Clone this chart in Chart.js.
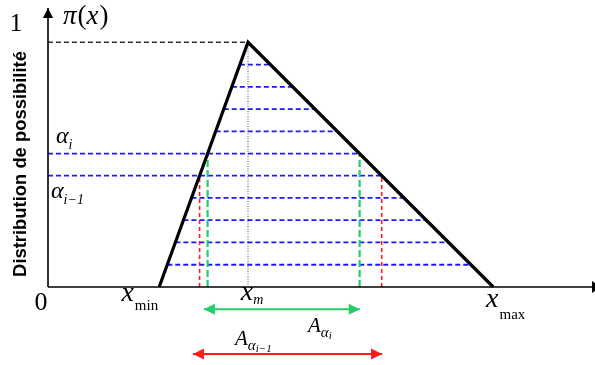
<!DOCTYPE html>
<html><head><meta charset="utf-8">
<script src="https://cdn.jsdelivr.net/npm/chart.js@4"></script>
<style>html,body{margin:0;padding:0;background:#fff}#wrap{width:595px;height:365px}</style>
</head><body><div id="wrap"><canvas id="c" width="595" height="365"></canvas></div>
<script>
// ---- data ----
const xMin = 2.04, xMode = 3.67, xMax = 8.17;          // triangle feet and peak (x units)
const peakLevel = 1;
const cutLevels = [0.091, 0.182, 0.273, 0.364, 0.455, 0.545, 0.636, 0.727, 0.818, 0.909];
const alphaI = 0.545, alphaIm1 = 0.455;                 // highlighted alpha-cuts
const greenArrow = [2.86, 5.72], greenArrowY = -0.091;  // A_{alpha_i}
const redArrow = [2.66, 6.13], redArrowY = -0.274;      // A_{alpha_{i-1}}
const xAxisMax = 10, yAxisMax = 1.14;
const yTickLabels = ['0', '1'];
const yTitle = 'Distribution de possibilité';
const xLabels = [['x', 'min'], ['x', 'm'], ['x', 'max']];

const leftEdge = a => xMin + a * (xMode - xMin);
const rightEdge = a => xMax - a * (xMax - xMode);

const BLUE = 'rgb(25,25,255)', GREEN = 'rgb(35,205,105)', RED = 'rgb(255,25,25)';
const line = (data, color, width, dash) => ({
  data, borderColor: color, borderWidth: width, borderDash: dash || [],
  showLine: true, pointRadius: 0, fill: false, clip: false, tension: 0
});

const datasets = [];
datasets.push(line([{x: xMin, y: 0}, {x: xMode, y: peakLevel}, {x: xMax, y: 0}], '#000', 3.2));
datasets.push(line([{x: 0, y: 0}, {x: 0, y: yAxisMax}], '#000', 1.6));
datasets.push(line([{x: 0, y: 0}, {x: xAxisMax, y: 0}], '#000', 1.6));
datasets.push(line([{x: 0, y: peakLevel}, {x: xMode, y: peakLevel}], '#333', 1.4, [5, 3]));
datasets.push(line([{x: xMode, y: 0}, {x: xMode, y: peakLevel}], '#555', 1, [1, 1.5]));
datasets.push(line([{x: leftEdge(alphaI), y: 0}, {x: leftEdge(alphaI), y: alphaI}], GREEN, 2.2, [7, 3]));
datasets.push(line([{x: rightEdge(alphaI), y: 0}, {x: rightEdge(alphaI), y: alphaI}], GREEN, 2.2, [7, 3]));
datasets.push(line([{x: leftEdge(alphaIm1), y: 0}, {x: leftEdge(alphaIm1), y: alphaIm1}], RED, 1.6, [4, 3]));
datasets.push(line([{x: rightEdge(alphaIm1), y: 0}, {x: rightEdge(alphaIm1), y: alphaIm1}], RED, 1.6, [4, 3]));
cutLevels.forEach(a => {
  const x0 = (a === alphaI || a === alphaIm1) ? 0 : leftEdge(a);
  datasets.push(line([{x: x0, y: a}, {x: rightEdge(a), y: a}], BLUE, 1.8, [5, 3]));
});
datasets.push(line([{x: greenArrow[0], y: greenArrowY}, {x: greenArrow[1], y: greenArrowY}], GREEN, 2));
datasets.push(line([{x: redArrow[0], y: redArrowY}, {x: redArrow[1], y: redArrowY}], RED, 2));

function head(ctx, tx, ty, dx, dy, len, half, color) {
  ctx.save(); ctx.fillStyle = color; ctx.beginPath();
  ctx.moveTo(tx, ty);
  ctx.lineTo(tx - dx * len - dy * half, ty - dy * len + dx * half);
  ctx.lineTo(tx - dx * len + dy * half, ty - dy * len - dx * half);
  ctx.closePath(); ctx.fill(); ctx.restore();
}
function seq(ctx, x, parts) {
  parts.forEach(p => {
    ctx.font = p.f; ctx.fillText(p.t, x, p.y);
    x += ctx.measureText(p.t).width + (p.gap || 0);
  });
  return x;
}
function width(ctx, parts) {
  let w = 0; parts.forEach(p => { ctx.font = p.f; w += ctx.measureText(p.t).width + (p.gap || 0); }); return w;
}

const SERIF = '"Liberation Serif", "Times New Roman", serif';
const annot = {
  id: 'annot',
  afterDatasetsDraw(chart) {
    const {ctx} = chart, sx = chart.scales.x, sy = chart.scales.y;
    const px = v => sx.getPixelForValue(v), py = v => sy.getPixelForValue(v);
    // axis arrowheads
    head(ctx, px(0), py(yAxisMax), 0, -1, 10, 5, '#000');
    head(ctx, px(xAxisMax) + 8, py(0), 1, 0, 9, 6, '#000');
    // dimension arrows
    head(ctx, px(greenArrow[0]), py(greenArrowY), -1, 0, 11, 5.5, GREEN);
    head(ctx, px(greenArrow[1]), py(greenArrowY), 1, 0, 11, 5.5, GREEN);
    head(ctx, px(redArrow[0]), py(redArrowY), -1, 0, 11, 5.5, RED);
    head(ctx, px(redArrow[1]), py(redArrowY), 1, 0, 11, 5.5, RED);

    ctx.save();
    ctx.fillStyle = '#000'; ctx.textBaseline = 'alphabetic'; ctx.textAlign = 'left';
    // tick labels 0 and 1
    ctx.font = '26px ' + SERIF; ctx.textAlign = 'center';
    ctx.fillText(yTickLabels[0], px(0) - 7, py(0) + 23);
    ctx.fillText(yTickLabels[1], px(0) - 32, 31);
    ctx.textAlign = 'left';
    // pi(x)
    seq(ctx, 63, [{t: 'π', f: 'italic 27px ' + SERIF, y: 24, gap: 1}, {t: '(', f: '27px ' + SERIF, y: 24}, {t: 'x', f: 'italic 27px ' + SERIF, y: 24, gap: 1}, {t: ')', f: '27px ' + SERIF, y: 24}]);
    // y title
    ctx.save();
    ctx.translate(21, 164);
    ctx.rotate(-Math.PI / 2);
    ctx.font = 'bold 18.4px "Liberation Sans", Arial, sans-serif';
    ctx.textAlign = 'center'; ctx.textBaseline = 'middle';
    ctx.fillText(yTitle, 0, 0);
    ctx.restore();
    // alpha labels
    const ab = py(alphaI) - 11;
    seq(ctx, 56, [{t: 'α', f: 'italic 24px ' + SERIF, y: ab, gap: 0}, {t: 'i', f: 'italic 14px ' + SERIF, y: ab + 6}]);
    const ab1 = py(alphaIm1) + 22;
    seq(ctx, 51, [{t: 'α', f: 'italic 24px ' + SERIF, y: ab1, gap: 0}, {t: 'i−1', f: 'italic 14px ' + SERIF, y: ab1 + 6}]);
    // x labels
    const xb = py(0) + 14;
    const XF = 'italic 28px ' + SERIF;
    const pMin = [{t: xLabels[0][0], f: XF, y: xb, gap: 1}, {t: xLabels[0][1], f: '15px ' + SERIF, y: xb + 9}];
    seq(ctx, px(xMin) - width(ctx, pMin) - 1, pMin);
    ctx.font = XF;
    const wx = ctx.measureText('x').width;
    seq(ctx, px(xMode) - wx / 2 - 1, [{t: xLabels[1][0], f: XF, y: xb - 1, gap: 0}, {t: xLabels[1][1], f: 'italic 14px ' + SERIF, y: xb + 3}]);
    seq(ctx, px(xMax) - wx / 2 - 1, [{t: xLabels[2][0], f: XF, y: xb + 6, gap: 1}, {t: xLabels[2][1], f: '15px ' + SERIF, y: xb + 18}]);
    // A labels
    const gy = py(greenArrowY) + 23;
    seq(ctx, 308, [{t: 'A', f: 'italic 21px ' + SERIF, y: gy, gap: 0}, {t: 'α', f: 'italic 15px ' + SERIF, y: gy + 5}, {t: 'i', f: 'italic 11px ' + SERIF, y: gy + 7}]);
    const ry = py(redArrowY) - 9;
    seq(ctx, 235, [{t: 'A', f: 'italic 21px ' + SERIF, y: ry, gap: 0}, {t: 'α', f: 'italic 15px ' + SERIF, y: ry + 5}, {t: 'i−1', f: 'italic 11px ' + SERIF, y: ry + 7}]);
    ctx.restore();
  }
};

new Chart(document.getElementById('c'), {
  type: 'scatter',
  data: {datasets},
  options: {
    responsive: false, animation: false, devicePixelRatio: 1,
    layout: {padding: {left: 48, right: 2, top: 8, bottom: 78}},
    plugins: {legend: {display: false}, tooltip: {enabled: false}},
    scales: {
      x: {type: 'linear', min: 0, max: xAxisMax, display: false},
      y: {type: 'linear', min: 0, max: yAxisMax, display: false}
    }
  },
  plugins: [annot]
});
</script></body></html>
